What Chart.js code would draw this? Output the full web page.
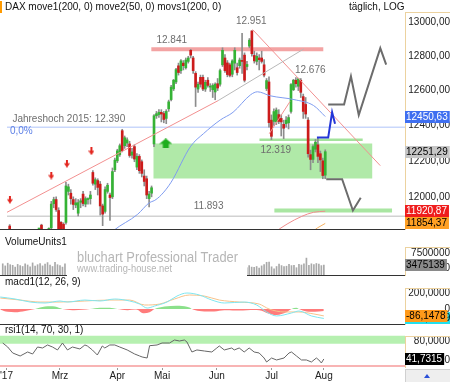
<!DOCTYPE html>
<html>
<head>
<meta charset="utf-8">
<script src="https://cdn.jsdelivr.net/npm/chart.js@4.4.1/dist/chart.umd.min.js"></script>
<style>
  html, body { margin: 0; padding: 0; background: #fff; }
  #wrap { position: relative; width: 450px; height: 382px; overflow: hidden; }
  #wrap canvas { position: absolute; left: 0; }
</style>
</head>
<body>
<div id="wrap">
  <canvas id="main" width="450" height="236" style="top:0px"></canvas>
  <canvas id="vol" width="450" height="40" style="top:236px"></canvas>
  <canvas id="macd" width="450" height="49" style="top:276px"></canvas>
  <canvas id="rsi" width="450" height="57" style="top:325px"></canvas>
</div>
<script>
// Handelstage: Index 0 = 01.02.2017, Mrz = 20, Apr = 43, Mai = 61, Jun = 83, Jul = 105, Aug = 126
const FIRST_DAY = -3;
const X_MIN = -4.1, X_MAX = 158.6;

const monthTicks = [-1.5, 20, 43, 61, 83, 105, 126];
const monthLabels = ["'17", 'Mrz', 'Apr', 'Mai', 'Jun', 'Jul', 'Aug'];
const priceTicks = [12000, 12200, 12400, 12600, 12800, 13000];

// DAX Tageskerzen
const opens = [11840, 11760, 11660, 11600, 11640, 11610, 11640, 11520, 11560, 11560, 11660, 11720, 11770, 11845, 11800, 11740, 11790, 11830, 11962, 11985, 11925, 11860, 11850, 11860,
  12030, 12020, 11985, 11955, 11910, 11970, 12015, 11960, 11985, 11990,
  12135, 12070, 12090, 12070, 11950, 11920, 12030, 12010, 12000, 12150,
  12200, 12235, 12370, 12285, 12300, 12295, 12232, 12280, 12165, 12225,
  12195, 12115, 12100, 11990, 12020, 12295, 12455, 12462, 12475, 12468,
  12440, 12495, 12548, 12610, 12650, 12744, 12716, 12760, 12733, 12770,
  12835, 12790, 12700, 12609, 12677, 12677, 12609, 12660, 12620, 12605,
  12592, 12640, 12637, 12750, 12790, 12761, 12750, 12695, 12760, 12733,
  12745, 12775, 12807, 12740, 12860, 12950, 12805, 12770, 12790, 12790,
  12750, 12612, 12650, 12430, 12423, 12420, 12462, 12440, 12406, 12410,
  12415, 12480, 12605, 12660, 12625, 12660, 12565, 12520, 12430, 12235,
  12208, 12265, 12290, 12240, 12200, 12120];
const highs = [11848, 11770, 11690, 11700, 11680, 11690, 11655, 11580, 11590, 11650, 11700, 11790, 11795, 11850, 11815, 11770, 11830, 11975, 11998, 12000, 11940, 11865, 11858, 12080,
  12070, 12040, 12000, 11990, 11985, 11990, 12030, 12000, 11995, 12030,
  12145, 12105, 12100, 12085, 11960, 12055, 12075, 12020, 12160, 12215,
  12265, 12295, 12378, 12340, 12330, 12310, 12270, 12290, 12240, 12235,
  12205, 12150, 12115, 12030, 12060, 12462, 12480, 12490, 12490, 12480,
  12490, 12545, 12630, 12665, 12730, 12760, 12780, 12775, 12790, 12800,
  12841, 12800, 12710, 12650, 12690, 12690, 12660, 12675, 12640, 12640,
  12645, 12670, 12725, 12850, 12810, 12775, 12760, 12780, 12850, 12760,
  12790, 12935, 12820, 12770, 12905, 12951, 12830, 12820, 12810, 12830,
  12780, 12670, 12680, 12460, 12495, 12500, 12490, 12460, 12430, 12450,
  12460, 12640, 12665, 12676, 12672, 12670, 12580, 12560, 12445, 12260,
  12290, 12320, 12330, 12255, 12215, 12262];
const lows = [11790, 11650, 11510, 11580, 11570, 11600, 11500, 11480, 11470, 11540, 11640, 11700, 11730, 11730, 11740, 11700, 11770, 11820, 11940, 11920, 11790, 11770, 11790, 11850,
  12010, 11960, 11930, 11940, 11895, 11940, 11950, 11945, 11960, 11960,
  12065, 12040, 12010, 11900, 11842, 11910, 12020, 11870, 11990, 12140,
  12190, 12225, 12250, 12270, 12280, 12220, 12215, 12195, 12150, 12130,
  12110, 12060, 11990, 11944, 12000, 12280, 12440, 12445, 12420, 12415,
  12410, 12480, 12540, 12600, 12640, 12690, 12700, 12720, 12725, 12760,
  12790, 12700, 12508, 12590, 12620, 12600, 12595, 12620, 12595, 12560,
  12547, 12600, 12625, 12740, 12705, 12680, 12680, 12680, 12720, 12690,
  12730, 12700, 12650, 12720, 12850, 12800, 12760, 12750, 12720, 12760,
  12680, 12600, 12390, 12319, 12400, 12405, 12410, 12340, 12325, 12390,
  12380, 12470, 12600, 12620, 12600, 12560, 12440, 12440, 12220, 12150,
  12190, 12250, 12190, 12140, 12100, 12100];
const closes = [11814, 11682, 11535, 11659, 11627, 11651, 11509, 11549, 11543, 11643, 11666, 11774, 11771, 11794, 11757, 11757, 11827, 11960, 11985, 11930, 11804, 11815, 11812, 12060,
  12055, 11990, 11958, 11967, 11968, 11978, 11963, 11990, 11988, 12010,
  12075, 12095, 12052, 11950, 11905, 12040, 12064, 11996, 12140, 12204,
  12256, 12285, 12257, 12330, 12318, 12230, 12250, 12210, 12225, 12145,
  12130, 12085, 12010, 12015, 12050, 12455, 12467, 12475, 12465, 12434,
  12480, 12535, 12620, 12660, 12722, 12705, 12773, 12745, 12778, 12790,
  12807, 12716, 12620, 12637, 12637, 12609, 12648, 12630, 12625, 12630,
  12637, 12615, 12716, 12835, 12716, 12693, 12688, 12773, 12835, 12705,
  12778, 12770, 12660, 12752, 12895, 12815, 12773, 12800, 12780, 12770,
  12690, 12658, 12416, 12338, 12479, 12488, 12423, 12420, 12384, 12430,
  12445, 12635, 12660, 12640, 12668, 12590, 12480, 12465, 12240, 12208,
  12280, 12305, 12225, 12205, 12118, 12251.29];

// gleitende Durchschnitte [Tag, Wert]
const move2Pts = [[36.1, 11772], [39.3, 11814], [49.3, 11904], [54.1, 11968], [56.1, 11979], [59, 12011], [63, 12081], [71, 12282], [76.2, 12353], [83.1, 12431], [88.3, 12475], [95.5, 12576], [98.3, 12593], [103.5, 12570], [113.2, 12548], [121.2, 12514], [126, 12450.63]];
const move1Pts = [[104.3, 11798], [110.4, 11851], [116.4, 11893], [121.2, 11915], [126, 11920.87]];
const movs1Pts = [[119.6, 11798], [122.8, 11830], [126, 11854.37]];

// Trendlinien und Szenarien
const trendUp = [[-4.1, 11915], [82.2, 12542]];
const trendUpExt = [[82.2, 12542], [117.2, 12843]];
const trendDown = [[96.3, 12958], [148.5, 12173]];
const trendShort = [[103.1, 12353], [111.6, 12537]];
const pathUp = [[127.2, 12520], [133.7, 12520], [136.5, 12683], [139.7, 12459], [148.5, 12848], [150.9, 12751]];
const pathBlue = [[122.6, 12331], [127.2, 12331], [128.8, 12475], [130.0, 12409]];
const pathDown = [[126.4, 12097], [132.9, 12097], [137.3, 11925], [140.5, 11995]];

const sellSignals = [[-2.9, 11984], [14, 12118], [20.4, 12184], [30.4, 12254]];
const buySignals = [[60.8, 12298]];

// Marken
const LEVEL_HIGH = 12841, LEVEL_JH = 12390, LEVEL_LOW = 12319, LEVEL_SUP = 11893, LEVEL_TARGET = 11925;
const zoneX = [55.7, 145.3], zoneY = [12102, 12298];

// Volumen (Mitte vom Logo verdeckt)
const VOL_A_START = -3, VOL_B_START = 95;
const volA = [3900000, 3200000, 4100000, 3600000, 3400000, 2800000, 3700000, 3300000, 3000000, 3900000, 3500000, 2900000, 4200000, 3100000, 3600000, 4000000, 3200000, 3800000, 4300000, 3500000, 3000000, 4400000, 3600000, 3300000, 2800000, 3900000];
const volB = [2600000, 3300000, 2800000, 2700000, 3000000, 2500000, 3200000, 3600000, 4400000, 4500000, 2900000, 2200000, 3000000, 3800000, 3300000, 3000000, 3100000, 3700000, 3300000, 3400000, 2600000, 3700000, 3500000, 3900000, 5800000, 3400000, 3900000, 3600000, 4000000, 3800000, 3300000, 3475139];

// MACD (12, 26, 9)
const macdPts = [[-4, 150], [2, 125], [8, 87], [14, 75], [20, 100], [23, 87], [30, 112], [36, 100], [42, 125], [48, 100], [52, 62], [55, 12], [58, 37], [63, 87], [67, 162], [71, 200], [76, 175], [81, 112], [86, 75], [94, 87], [99, 50], [103, -37], [107, -87], [113, -50], [116, -25], [121, -87], [126, -118.3429]];
const signalPts = [[-4, 137], [4, 112], [12, 87], [20, 87], [30, 100], [40, 112], [48, 112], [54, 50], [60, 62], [66, 125], [72, 175], [78, 162], [84, 112], [92, 87], [100, 62], [104, 0], [110, -37], [116, -37], [122, -62], [126, -86.1478]];
const histPts = [[-4, -10], [-1, -35], [3, -40], [7, -20], [10, 0], [14, 30], [18, 30], [21, 0], [25, -15], [29, -10], [32, 0], [36, 15], [40, 15], [43, 0], [47, -15], [51, -10], [53, -50], [56, -40], [58, 0], [62, 30], [68, 40], [72, 20], [73, 0], [76, -25], [82, -30], [86, -15], [92, -20], [100, -15], [104, -60], [107, -75], [111, -40], [113, 0], [115, 15], [116, 0], [119, -30], [124, -30], [126, -25]];

// RSI (14)
const rsiPts = [[-3, 75.7], [-1, 67.2], [1, 54.5], [4, 48.1], [7, 56.6], [9, 52.3], [11, 67.2], [13, 65.1], [15, 71.5], [17, 67.2], [19, 60.9], [21, 75.7], [23, 60.9], [25, 67.2], [28, 63], [30, 71.5], [31, 69.4], [33, 60.9], [35, 50.2], [37, 69.4], [38, 65.1], [40, 71.5], [42, 71.5], [44, 67.2], [47, 60.9], [50, 52.3], [52, 48.1], [53, 46], [55, 43.8], [56, 70], [59, 71.5], [61, 75.7], [64, 75.7], [66, 82.1], [68, 80], [70, 82.1], [71, 77.9], [73, 56.6], [75, 60.9], [78, 58.7], [81, 56.6], [83, 65.1], [84, 69.4], [86, 60.9], [89, 65.1], [90, 60.9], [92, 65.1], [94, 56.6], [96, 65.1], [98, 56.6], [100, 54.5], [102, 43.8], [103, 35.3], [105, 43.8], [107, 39.6], [110, 43.8], [112, 54.5], [113, 56.6], [115, 48.1], [117, 39.6], [119, 39.6], [121, 35.3], [123, 43.8], [124, 39.6], [125, 33.2], [126, 41.7315]];
const RSI_HI = [74, 91], RSI_LO = [24.7, 28.9];

Chart.defaults.font.family = '"Liberation Sans", Arial, sans-serif';
Chart.defaults.font.size = 10;
Chart.defaults.color = '#222';
Chart.defaults.animation = false;
Chart.defaults.events = [];
Chart.defaults.plugins.legend.display = false;
Chart.defaults.plugins.tooltip.enabled = false;

const FONT = '10px "Liberation Sans", Arial, sans-serif';
const TAN = '#ecd29f';
const fmt = (v, d) => v.toFixed(d).replace('.', ',');
const last = a => a[a.length - 1][1];
const pts = a => a.map(([x, y]) => ({ x, y }));

function line(a, color, width, order, extra) {
  return Object.assign({ type: 'line', data: pts(a), borderColor: color, borderWidth: width,
    pointRadius: 0, fill: false, tension: 0, order: order }, extra || {});
}
const hline = (x0, x1, v, color, width, order) => line([[x0, v], [x1, v]], color, width, order);

const fitRight = s => { s.width = 45; s.paddingTop = 0; s.paddingBottom = 0; };
const hiddenX = { type: 'linear', min: X_MIN, max: X_MAX, offset: false, display: false };
function rightY(extra, tickVals, cb, pad) {
  return Object.assign({
    position: 'right',
    afterBuildTicks: s => { s.ticks = tickVals.map(value => ({ value })); },
    afterFit: fitRight,
    grid: { display: false, drawTicks: false },
    border: { display: false },
    ticks: { crossAlign: 'far', padding: pad, color: '#222', callback: cb, autoSkip: false }
  }, extra);
}

function tag(ctx, y, text, bg, fg) {
  ctx.font = FONT;
  const w = ctx.measureText(text).width + 3;
  const yy = Math.round(y);
  ctx.fillStyle = bg; ctx.fillRect(405, yy - 6, w, 12);
  ctx.fillStyle = fg; ctx.textAlign = 'left'; ctx.textBaseline = 'middle';
  ctx.fillText(text, 406, yy + 0.5);
}
function axisBox(ctx, top, bottom) {
  ctx.fillStyle = TAN;
  ctx.fillRect(405, top, 45, 1);
  ctx.fillRect(405, top, 1, bottom - top);
}
function panelTitle(ctx, text, y) {
  ctx.font = FONT; ctx.fillStyle = '#111'; ctx.textAlign = 'left'; ctx.textBaseline = 'middle';
  ctx.fillText(text, 5, y);
}

function sellArrow() {
  const c = document.createElement('canvas'); c.width = 6; c.height = 8;
  const g = c.getContext('2d'); g.fillStyle = '#e3261f';
  g.fillRect(2, 0, 2, 4);
  g.beginPath(); g.moveTo(0, 3.5); g.lineTo(6, 3.5); g.lineTo(3, 8); g.closePath(); g.fill();
  return c;
}
function buyArrow() {
  const c = document.createElement('canvas'); c.width = 13; c.height = 10;
  const g = c.getContext('2d'); g.fillStyle = '#1fae1f';
  g.beginPath(); g.moveTo(6.5, 0); g.lineTo(13, 5.5); g.lineTo(0, 5.5); g.closePath(); g.fill();
  g.fillRect(3.5, 5, 6, 5);
  return c;
}

// ---------- Kurschart ----------
const candleX = opens.map((_, k) => FIRST_DAY + k);
const wickData = candleX.map((x, k) => ({ x, y: [lows[k], highs[k]] }));
const bodyData = candleX.map((x, k) => ({ x, y: [opens[k], closes[k]] }));
const bodyColors = opens.map((o, k) => closes[k] >= o ? '#35b335' : '#cc1b1b');

const mainDecor = {
  id: 'mainDecor',
  afterDatasetsDraw(chart) {
    const { ctx, scales: { x, y } } = chart;
    ctx.save();
    ctx.font = FONT; ctx.textAlign = 'left'; ctx.textBaseline = 'middle';
    const note = (t, i, v, dy, col) => {
      ctx.fillStyle = col || '#6e6e6e';
      ctx.fillText(t, x.getPixelForValue(i), y.getPixelForValue(v) + dy);
    };
    note('12.841', 57, LEVEL_HIGH, -9);
    note('12.951', 89.5, 12951, -9);
    note('12.676', 113.6, 12676, -7);
    note('12.319', 99.5, LEVEL_LOW, 11);
    note('11.893', 72.2, LEVEL_SUP, -10);
    note('Jahreshoch 2015: 12.390', -1.9, LEVEL_JH, -8);
    note('0,0%', -2.9, LEVEL_JH, 4, '#5b7fe6');
    ctx.restore();
  },
  afterDraw(chart) {
    const { ctx, chartArea: a, scales: { y } } = chart;
    ctx.save();
    ctx.fillStyle = '#333'; ctx.fillRect(0, a.bottom, 405, 1);
    axisBox(ctx, 12, a.bottom + 1);
    ctx.fillStyle = '#ff9a00'; ctx.fillRect(0, 1, 2, 12);
    panelTitle(ctx, 'DAX move1(200, 0) move2(50, 0) movs1(200, 0)', 7.5);
    ctx.fillText('täglich, LOG', 349, 7.5);
    tag(ctx, y.getPixelForValue(last(move2Pts)), fmt(last(move2Pts), 2), '#3f6ff0', '#fff');
    tag(ctx, y.getPixelForValue(closes[closes.length - 1]), fmt(closes[closes.length - 1], 2), '#c6c6c6', '#000');
    tag(ctx, y.getPixelForValue(last(move1Pts)), fmt(last(move1Pts), 2), '#ef1d1d', '#fff');
    tag(ctx, y.getPixelForValue(last(movs1Pts)), fmt(last(movs1Pts), 2), '#ffa024', '#000');
    ctx.restore();
  }
};

new Chart(document.getElementById('main'), {
  type: 'bar',
  data: { datasets: [
    line([[zoneX[0], zoneY[1]], [zoneX[1], zoneY[1]]], 'rgba(0,0,0,0)', 0, 30, { backgroundColor: '#b0e9a8', fill: { value: zoneY[0] } }),
    hline(X_MIN, X_MAX, LEVEL_JH, '#c9d7fb', 1.5, 25),
    hline(X_MIN, X_MAX, LEVEL_SUP, '#d2d2d2', 1.5, 25),
    hline(54.9, 125.2, LEVEL_HIGH, '#f3a3a3', 4, 25),
    hline(99.1, 141.3, LEVEL_LOW, '#a3e39c', 2.5, 25),
    hline(105.2, 153.3, LEVEL_TARGET, '#a9e6a2', 4, 25),
    { type: 'bar', data: wickData, backgroundColor: '#8c8c8c', barThickness: 1, grouped: false, order: 10 },
    { type: 'bar', data: bodyData, backgroundColor: bodyColors, barThickness: 2, minBarLength: 1, grouped: false, order: 9 },
    line(move2Pts, '#7f9cf0', 1, 5, { cubicInterpolationMode: 'monotone' }),
    line(move1Pts, '#f08c8c', 1, 5, { cubicInterpolationMode: 'monotone' }),
    line(movs1Pts, '#f5b060', 1, 5),
    line(trendUp, '#f29090', 1, 4),
    line(trendUpExt, '#b8b8b8', 1, 4),
    line(trendDown, '#f29090', 1, 4),
    line(trendShort, '#f29090', 1, 4),
    line(pathUp, '#6c6c6c', 2, 2),
    line(pathDown, '#6c6c6c', 2, 2),
    line(pathBlue, '#2436d8', 2, 2),
    { type: 'scatter', data: pts(sellSignals), pointStyle: sellArrow(), pointRadius: 4, order: 0 },
    { type: 'scatter', data: pts(buySignals), pointStyle: buyArrow(), pointRadius: 6, order: 0 }
  ] },
  options: {
    responsive: false,
    layout: { padding: { top: 14, bottom: 1, left: 0, right: 0 } },
    scales: {
      x: hiddenX,
      y: rightY({ type: 'logarithmic', min: 11824, max: 13051 }, priceTicks, v => fmt(v, 2), 5)
    }
  },
  plugins: [mainDecor]
});

// ---------- Volumen ----------
const volData = volA.map((v, k) => ({ x: VOL_A_START + k, y: v }))
  .concat(volB.map((v, k) => ({ x: VOL_B_START + k, y: v })));

const volDecor = {
  id: 'volDecor',
  afterDraw(chart) {
    const { ctx, chartArea: a, scales: { y } } = chart;
    ctx.save();
    ctx.fillStyle = '#333'; ctx.fillRect(0, a.bottom - 1, 405, 1);
    axisBox(ctx, 11, a.bottom);
    // Logo
    ctx.fillStyle = '#fff'; ctx.fillRect(67, 14, 180, 26);
    ctx.fillStyle = '#b6b6b6'; ctx.textAlign = 'left'; ctx.textBaseline = 'alphabetic';
    const fitText = (t, px, x0, base, w) => {
      ctx.font = px + 'px "Liberation Sans", Arial, sans-serif';
      const m = ctx.measureText(t).width;
      ctx.save(); ctx.translate(x0, base); ctx.scale(w / m, 1); ctx.fillText(t, 0, 0); ctx.restore();
    };
    fitText('bluchart Professional Trader', 14, 77, 26, 161);
    fitText('www.trading-house.net', 10, 77, 36, 95);
    panelTitle(ctx, 'VolumeUnits1', 6.5);
    tag(ctx, y.getPixelForValue(volB[volB.length - 1]), String(volB[volB.length - 1]), '#8a8a8a', '#000');
    ctx.restore();
  }
};

new Chart(document.getElementById('vol'), {
  type: 'bar',
  data: { datasets: [{ data: volData, backgroundColor: '#a9a9a9', barThickness: 1 }] },
  options: {
    responsive: false,
    layout: { padding: 0 },
    scales: {
      x: hiddenX,
      y: rightY({ type: 'linear', min: -170000, max: 13170000 }, [2500000, 7500000], v => String(v), 8)
    }
  },
  plugins: [volDecor]
});

// ---------- MACD ----------
const macdDecor = {
  id: 'macdDecor',
  afterDraw(chart) {
    const { ctx, chartArea: a, scales: { y } } = chart;
    ctx.save();
    ctx.fillStyle = '#333'; ctx.fillRect(0, a.bottom - 1, 405, 1);
    axisBox(ctx, 12, a.bottom);
    panelTitle(ctx, 'macd1(12, 26, 9)', 6.5);
    tag(ctx, y.getPixelForValue(last(macdPts)), fmt(last(macdPts), 4), '#22e0ee', '#000');
    tag(ctx, y.getPixelForValue(last(signalPts)), fmt(last(signalPts), 4), '#ff9a1a', '#000');
    ctx.restore();
  }
};

new Chart(document.getElementById('macd'), {
  type: 'line',
  data: { datasets: [
    line(histPts, 'rgba(0,0,0,0)', 0, 3, { tension: 0.35, fill: { target: 'origin', above: '#8be08b', below: '#ff7b7b' } }),
    line(signalPts, '#f7c28a', 1, 2, { cubicInterpolationMode: 'monotone' }),
    line(macdPts, '#7fe6f0', 1, 1, { cubicInterpolationMode: 'monotone' })
  ] },
  options: {
    responsive: false,
    layout: { padding: 0 },
    scales: {
      x: hiddenX,
      y: rightY({ type: 'linear', min: -200, max: 412.5 }, [0, 200], v => v === 0 ? '0' : fmt(v, 4), 5)
    }
  },
  plugins: [macdDecor]
});

// ---------- RSI ----------
const rsiDecor = {
  id: 'rsiDecor',
  afterDraw(chart) {
    const { ctx, chartArea: a, scales: { y } } = chart;
    ctx.save();
    axisBox(ctx, 11, a.bottom);
    panelTitle(ctx, 'rsi1(14, 70, 30, 1)', 5.5);
    tag(ctx, y.getPixelForValue(last(rsiPts)), fmt(last(rsiPts), 4), '#000', '#fff');
    ctx.fillStyle = '#eeeeee'; ctx.fillRect(405, a.bottom + 1, 45, 14);
    ctx.fillStyle = '#d0d0d0'; ctx.fillRect(405, a.bottom + 1, 45, 1); ctx.fillRect(405, a.bottom + 1, 1, 14);
    ctx.fillStyle = '#2b50d8';
    ctx.beginPath(); ctx.moveTo(427, a.bottom + 6); ctx.lineTo(430, a.bottom + 10); ctx.lineTo(424, a.bottom + 10); ctx.closePath(); ctx.fill();
    ctx.restore();
  }
};

new Chart(document.getElementById('rsi'), {
  type: 'line',
  data: { datasets: [
    line([[X_MIN, RSI_HI[1]], [X_MAX, RSI_HI[1]]], 'rgba(0,0,0,0)', 0, 5, { backgroundColor: '#b6f0b0', fill: { value: RSI_HI[0] } }),
    line([[X_MIN, RSI_LO[1]], [X_MAX, RSI_LO[1]]], 'rgba(0,0,0,0)', 0, 5, { backgroundColor: '#f8b4b4', fill: { value: RSI_LO[0] } }),
    line(rsiPts, '#666', 1, 1)
  ] },
  options: {
    responsive: false,
    layout: { padding: 0 },
    scales: {
      x: {
        type: 'linear', min: X_MIN, max: X_MAX, offset: false, position: 'bottom',
        afterBuildTicks: s => { s.ticks = monthTicks.map(value => ({ value })); },
        afterFit: s => { s.height = 14; s.paddingLeft = 0; s.paddingRight = 0; },
        grid: { drawOnChartArea: false, tickLength: 2, color: '#999' },
        border: { display: false },
        ticks: { callback: (v, i) => monthLabels[i], padding: 0, maxRotation: 0, autoSkip: false, color: '#222' }
      },
      y: rightY({ type: 'linear', min: 22.55, max: 114 }, [40, 80], v => fmt(v, 4), 10)
    }
  },
  plugins: [rsiDecor]
});
</script>
</body>
</html>
